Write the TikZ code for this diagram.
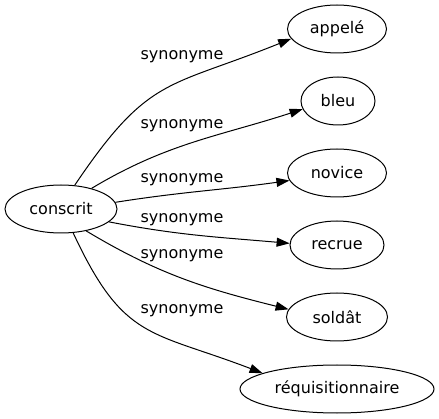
\documentclass[tikz,border=0pt]{standalone}
\usepackage{fontspec}
\setmainfont{DejaVu Sans}
\usepackage{tikz}
\usetikzlibrary{shapes.geometric, arrows.meta, positioning}

\begin{document}
\begin{tikzpicture}[
    x=1pt, y=1pt,
    font=\fontsize{16}{19}\selectfont,
    word/.style={ellipse, draw=black, line width=1pt, inner sep=0pt, minimum height=48pt},
    synonym/.style={-{Triangle[length=13pt, width=9pt]}, line width=1pt, black},
    lbl/.style={anchor=base, inner sep=0pt}
]
    \useasboundingbox (0,0) rectangle (439,-419);

    % Source word
    \node (conscrit) [word, minimum width=112pt] at (61,-209) {conscrit};

    % Synonyms (one column)
    \node (appele) [word, minimum width=99pt] at (337,-29) {appelé};
    \node (bleu) [word, minimum width=74pt] at (338,-101) {bleu};
    \node (novice) [word, minimum width=99pt] at (337,-173) {novice};
    \node (recrue) [word, minimum width=94pt] at (337,-245) {recrue};
    \node (soldat) [word, minimum width=101pt] at (337,-317) {soldât};
    \node (requis) [word, minimum width=194pt] at (337,-389) {réquisitionnaire};

    % Edges
    \draw [synonym] (conscrit.60) to[out=56, in=202, looseness=1.3] (appele.192);
    \draw [synonym] (conscrit.34) to[out=31, in=198] (bleu.193);
    \draw [synonym] (conscrit.7) to[out=9, in=188] (novice.189);
    \draw [synonym] (conscrit.-15) to[out=-11, in=175] (recrue.178);
    \draw [synonym] (conscrit.-41) to[out=-31, in=166] (soldat.171);
    \draw [synonym] (conscrit.-63) to[out=-65, in=159, looseness=1.3] (requis.168);

    % Edge labels
    \node (lappele) [lbl] at (182,-60) {synonyme};
    \node (lbleu) [lbl] at (182,-129) {synonyme};
    \node (lnovice) [lbl] at (182,-183) {synonyme};
    \node (lrecrue) [lbl] at (182,-223) {synonyme};
    \node (lsoldat) [lbl] at (182,-259) {synonyme};
    \node (lrequis) [lbl] at (182,-314) {synonyme};

\end{tikzpicture}
\end{document}
